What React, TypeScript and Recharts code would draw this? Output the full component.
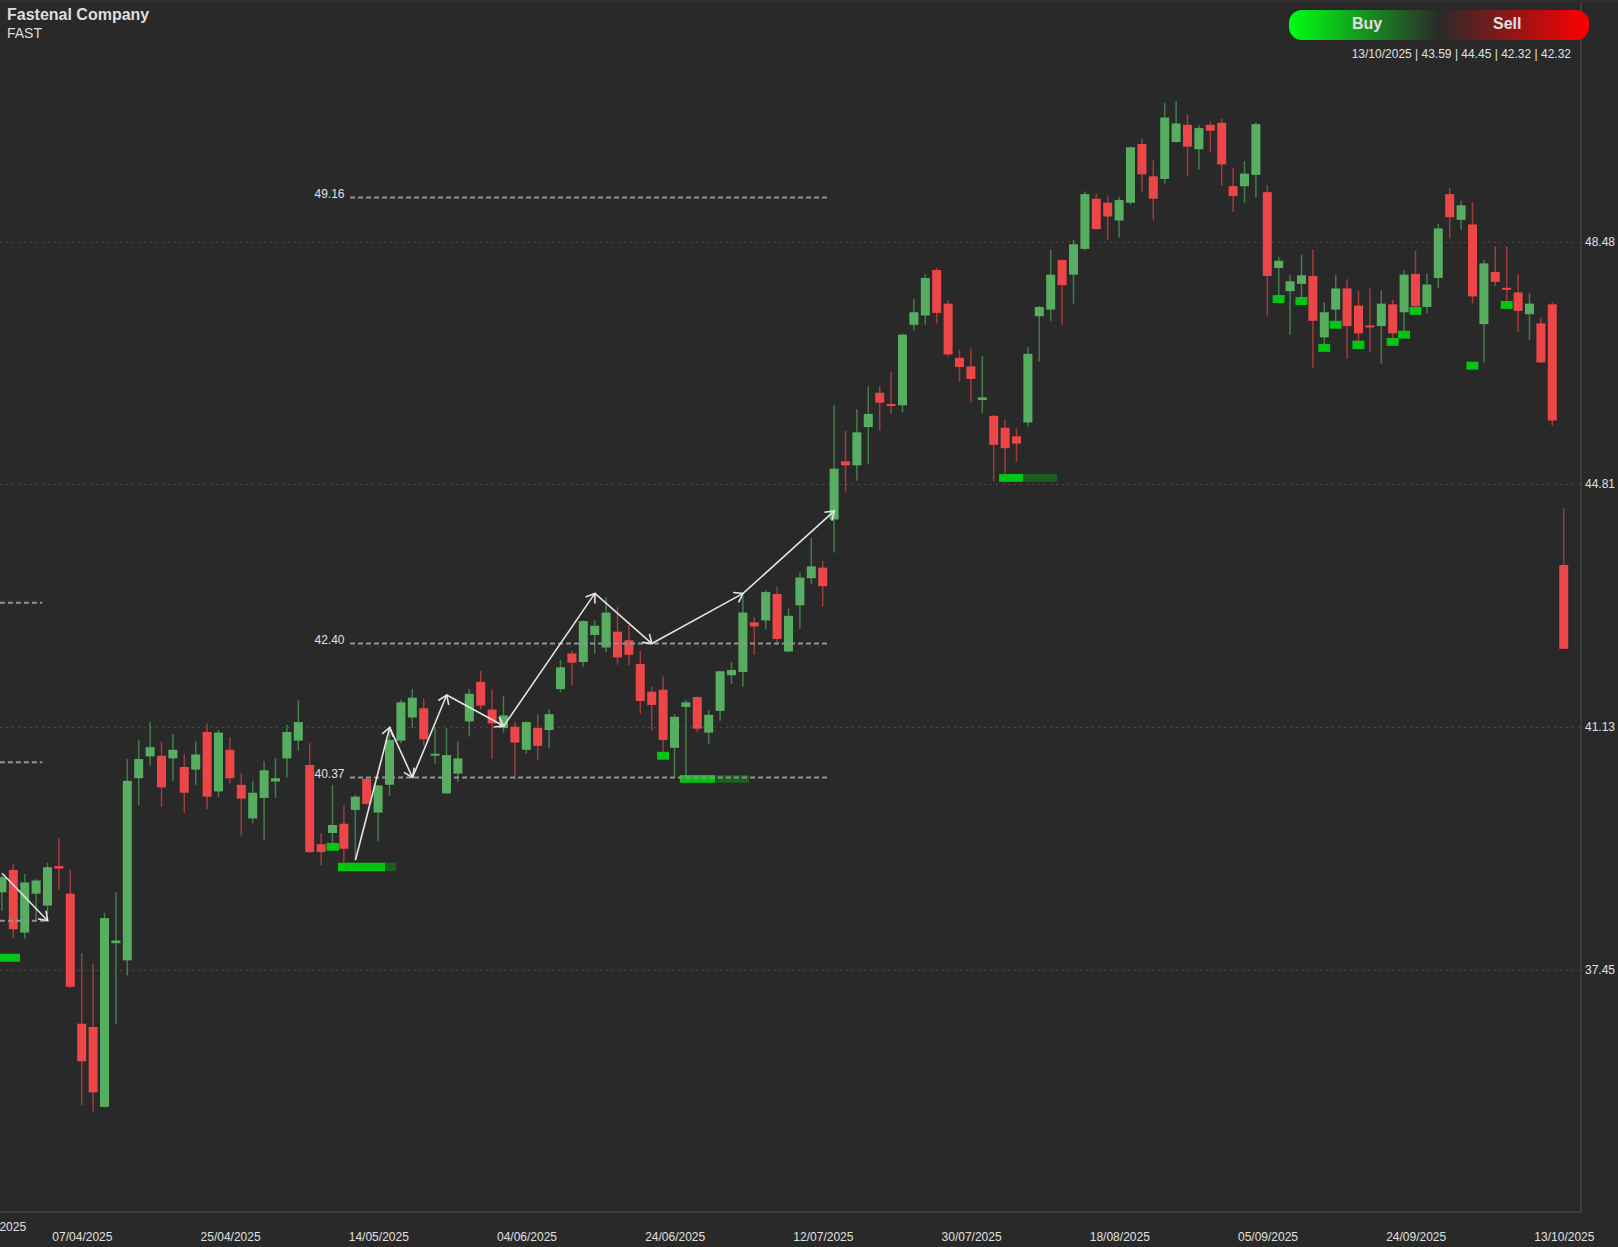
import React from 'react';
import {
  ComposedChart,
  Bar,
  XAxis,
  YAxis,
  CartesianGrid,
  ReferenceLine,
  ReferenceArea,
} from 'recharts';

const opens = [
  38.63, 38.97, 38.02, 38.61, 38.43, 39.03, 38.61, 36.64, 36.59, 35.38, 37.86, 37.6, 40.36, 40.69, 40.7, 40.66, 40.53, 40.49, 41.06, 40.16,
  40.79, 40.26, 39.75, 40.06, 40.31, 40.66, 40.93, 40.56, 39.36, 39.53, 39.67, 39.88, 40.35, 39.84, 40.26, 40.93, 41.28, 41.42, 40.71, 40.13,
  40.43, 41.22, 41.82, 41.4, 41.12, 41.14, 40.79, 41.12, 41.09, 41.71, 42.25, 42.12, 42.53, 42.34, 42.58, 42.45, 42.09, 41.67, 41.7, 40.82,
  41.44, 41.59, 41.05, 41.38, 41.92, 41.97, 42.72, 42.75, 43.15, 42.28, 42.98, 43.39, 43.55, 44.28, 45.16, 45.1, 45.68, 46.2, 46.03, 46.01,
  47.23, 47.37, 48.06, 47.55, 46.73, 46.6, 46.09, 45.85, 45.67, 45.54, 45.75, 47.36, 47.46, 48.21, 47.99, 48.38, 49.14, 49.08, 48.81, 49.08,
  49.97, 49.48, 49.44, 50.0, 50.26, 49.89, 50.26, 50.29, 49.33, 49.33, 49.5, 49.24, 48.09, 47.74, 47.85, 47.97, 47.04, 47.46, 47.78, 47.52,
  47.22, 47.21, 47.54, 47.42, 48.0, 47.5, 47.94, 49.21, 48.82, 48.75, 47.24, 48.03, 47.79, 47.72, 47.39, 47.25, 47.54, 43.59,
];
const highs = [
  38.89, 39.06, 38.91, 38.83, 39.08, 39.45, 38.97, 37.71, 37.55, 38.32, 38.63, 40.65, 40.94, 41.21, 40.91, 41.03, 40.72, 40.92, 41.19, 41.09,
  40.98, 40.44, 40.32, 40.62, 40.66, 41.17, 41.54, 40.89, 39.53, 40.26, 39.95, 40.11, 40.37, 40.26, 41.14, 41.55, 41.71, 41.57, 41.14, 41.12,
  40.92, 41.71, 41.99, 41.7, 41.61, 41.22, 41.22, 41.33, 41.4, 42.15, 42.29, 42.75, 42.75, 43.1, 42.95, 42.68, 42.29, 41.75, 41.9, 41.33,
  41.55, 41.6, 41.39, 41.99, 42.12, 43.11, 42.8, 43.21, 43.26, 42.93, 43.48, 44.0, 43.65, 46.02, 45.62, 45.95, 46.3, 46.3, 46.52, 47.1,
  47.62, 48.0, 48.09, 47.6, 46.85, 46.87, 46.76, 45.86, 45.79, 45.66, 46.89, 47.51, 48.37, 48.22, 48.52, 49.25, 49.22, 49.19, 49.17, 49.93,
  50.05, 49.72, 50.59, 50.62, 50.42, 50.26, 50.31, 50.35, 49.6, 49.71, 50.3, 49.35, 48.26, 47.98, 48.29, 48.37, 47.57, 47.98, 47.92, 47.75,
  47.78, 47.75, 47.61, 48.06, 48.35, 48.0, 48.76, 49.3, 49.11, 49.08, 48.21, 48.42, 48.42, 48.0, 47.71, 47.34, 47.57, 44.45,
];
const lows = [
  38.35, 37.93, 37.93, 38.2, 38.29, 38.67, 37.18, 35.41, 35.31, 35.37, 36.63, 37.37, 39.95, 40.55, 39.93, 40.32, 39.83, 40.26, 39.89, 40.07,
  40.28, 39.49, 39.68, 39.43, 40.06, 40.37, 40.78, 39.23, 39.04, 39.37, 39.08, 39.11, 39.96, 39.41, 40.09, 40.89, 41.12, 40.86, 40.58, 40.12,
  40.3, 40.99, 41.4, 40.65, 41.05, 40.34, 40.73, 40.63, 40.81, 41.66, 41.77, 42.05, 42.25, 42.27, 42.08, 42.07, 41.34, 41.08, 40.76, 40.37,
  40.38, 41.06, 40.88, 41.23, 41.79, 41.75, 42.23, 42.62, 42.38, 42.27, 42.62, 43.3, 42.96, 43.78, 44.69, 44.87, 45.12, 45.63, 45.88, 45.9,
  47.14, 47.23, 47.25, 46.75, 46.37, 46.05, 45.89, 44.86, 44.98, 45.16, 45.69, 46.67, 47.29, 47.23, 47.55, 48.36, 48.67, 48.52, 48.55, 49.05,
  49.25, 48.81, 49.37, 49.99, 49.48, 49.58, 49.84, 49.34, 48.94, 49.07, 49.16, 47.37, 47.66, 47.08, 47.63, 46.58, 46.92, 47.28, 46.71, 46.98,
  46.82, 46.64, 47.01, 47.13, 47.48, 47.41, 47.78, 48.54, 48.67, 47.55, 46.66, 47.82, 47.58, 47.12, 47.0, 46.65, 45.7, 42.32,
];
const closes = [
  38.86, 38.07, 38.78, 38.81, 39.01, 38.99, 37.2, 36.07, 35.6, 38.24, 37.9, 40.32, 40.65, 40.83, 40.22, 40.79, 40.14, 40.72, 40.08, 41.05,
  40.36, 40.05, 40.14, 40.48, 40.36, 41.06, 41.21, 39.24, 39.24, 39.65, 39.29, 40.08, 39.97, 40.25, 40.94, 41.51, 41.58, 40.95, 40.73, 40.71,
  40.66, 41.64, 41.46, 41.19, 41.31, 40.9, 41.21, 40.85, 41.33, 42.04, 42.11, 42.74, 42.67, 42.87, 42.19, 42.23, 41.53, 41.47, 40.94, 41.29,
  41.51, 41.11, 41.32, 41.98, 42.0, 42.87, 42.66, 43.18, 42.47, 42.82, 43.4, 43.57, 43.27, 45.05, 45.1, 45.6, 45.88, 46.05, 46.0, 47.08,
  47.42, 47.94, 47.41, 46.78, 46.59, 46.41, 46.13, 45.41, 45.36, 45.43, 46.79, 47.5, 47.99, 47.83, 48.45, 49.21, 48.68, 48.87, 49.12, 49.92,
  49.51, 49.14, 50.37, 50.28, 49.93, 50.21, 50.17, 49.66, 49.18, 49.52, 50.27, 47.97, 48.2, 47.89, 47.98, 47.29, 47.42, 47.78, 47.21, 47.1,
  47.19, 47.55, 47.1, 47.99, 47.51, 47.84, 48.69, 48.86, 49.04, 47.66, 48.16, 47.88, 47.76, 47.44, 47.55, 46.66, 45.78, 42.32,
];

const priceTicks = [37.45, 41.13, 44.81, 48.48];
const dateTickIndexes = [0, 7, 20, 33, 46, 59, 72, 85, 98, 111, 124, 137];
const dateTickLabels = [
  '19/03/2025', '07/04/2025', '25/04/2025', '14/05/2025', '04/06/2025', '24/06/2025',
  '12/07/2025', '30/07/2025', '18/08/2025', '05/09/2025', '24/09/2025', '13/10/2025',
];

// [from candle, to candle, price]
const levels = [
  [-0.19, 3.53, 43.02],
  [-0.19, 3.53, 40.6],
  [-0.19, 4, 38.2],
  [30.52, 72.5, 49.16],
  [30.52, 72.5, 42.4],
  [30.52, 72.5, 40.37],
];
const labelledLevels = [49.16, 42.4, 40.37];

// [candle, price]
const arrowsLeft = [[0, 38.92], [4, 38.2]];
const arrowsMain = [
  [31, 39.12], [34, 41.13], [36, 40.37], [39, 41.62], [44, 41.15],
  [52, 43.16], [57, 42.4], [65, 43.16], [73, 44.41],
];

// [from candle, to candle, top, bottom]
const brightZones = [
  [-0.19, 1.57, 37.7, 37.58],
  [28.46, 29.57, 39.38, 39.26],
  [29.45, 33.59, 39.08, 38.95],
  [57.45, 58.5, 40.76, 40.64],
  [59.45, 62.53, 40.41, 40.29],
  [87.45, 89.55, 44.97, 44.85],
  [111.45, 112.5, 47.68, 47.56],
  [113.45, 114.5, 47.65, 47.53],
  [115.45, 116.5, 46.94, 46.82],
  [116.45, 117.5, 47.29, 47.17],
  [118.45, 119.5, 46.99, 46.86],
  [121.45, 122.5, 47.03, 46.91],
  [122.45, 123.5, 47.14, 47.02],
  [123.45, 124.5, 47.5, 47.38],
  [128.45, 129.5, 46.67, 46.55],
  [131.45, 132.5, 47.59, 47.47],
];
const fadedZones = [
  [33.59, 34.55, 39.08, 38.95],
  [62.53, 65.52, 40.41, 40.29],
  [89.55, 92.54, 44.97, 44.85],
];

const UP = '#57ae61';
const DOWN = '#ec4649';
const FONT = '"Liberation Sans", Arial, sans-serif';

const rows = opens.map((open, i) => ({
  i,
  open,
  close: closes[i],
  range: [lows[i], highs[i]],
}));

const Candle = ({ x, y, width, height, payload }: any) => {
  const [low, high] = payload.range;
  const perUnit = height / (high - low);
  const top = y + (high - Math.max(payload.open, payload.close)) * perUnit;
  const bottom = y + (high - Math.min(payload.open, payload.close)) * perUnit;
  const color = payload.close >= payload.open ? UP : DOWN;
  const mid = x + width / 2;
  return (
    <g>
      <line x1={mid} x2={mid} y1={y} y2={y + height} stroke={color} strokeWidth={1.5} strokeOpacity={0.62} />
      <rect x={x} y={top} width={width} height={Math.max(bottom - top, 2)} fill={color} />
    </g>
  );
};

const ArrowSegment = ({ x1, y1, x2, y2 }: any) => {
  const angle = Math.atan2(y2 - y1, x2 - x1);
  const barb = (side: number) => {
    const a = angle + Math.PI + side * 0.6;
    return `${x2 + Math.cos(a) * 10},${y2 + Math.sin(a) * 10}`;
  };
  return (
    <g>
      <line x1={x1} y1={y1} x2={x2} y2={y2} stroke="#e4e4e4" strokeWidth={1.6} />
      <polyline points={`${barb(1)} ${x2},${y2} ${barb(-1)}`} fill="none" stroke="#e4e4e4" strokeWidth={1.6} />
    </g>
  );
};

const LevelShape = ({ x1, y1, x2, y2, text }: any) => (
  <g>
    <line x1={x1} y1={y1} x2={x2} y2={y2} stroke="#929292" strokeWidth={2} strokeDasharray="5 3" />
    {text && (
      <text x={x1 - 5.5} y={y1 + 0.5} textAnchor="end" fontSize={12} fontFamily={FONT} fill="#e0e0e0">
        {text}
      </text>
    )}
  </g>
);

const DateTick = ({ x, y, payload }: any) => {
  const pos = dateTickIndexes.indexOf(payload.value);
  const first = pos === 0;
  return (
    <text
      x={first ? x - 6 : x + 0.5}
      y={first ? y + 11 : y + 21}
      textAnchor="middle"
      fontSize={12}
      fontFamily={FONT}
      fill="#e0e0e0"
    >
      {dateTickLabels[pos]}
    </text>
  );
};

const segments = (points: number[][]) =>
  points.slice(1).map((p, k) => [points[k], p]);

export default function App() {
  const arrowSegments = [...segments(arrowsLeft), ...segments(arrowsMain)];
  return (
    <div
      style={{
        position: 'absolute',
        left: 0,
        top: 0,
        width: 1618,
        height: 1247,
        overflow: 'hidden',
        background: '#292929',
        fontFamily: FONT,
      }}
    >
      <ComposedChart width={1618} height={1247} data={rows} margin={{ top: 0, right: 0, bottom: 0, left: 0 }}>
        <CartesianGrid horizontal vertical={false} stroke="#4c4c4c" strokeDasharray="2 4" />
        <XAxis
          dataKey="i"
          type="category"
          height={35}
          padding={{ left: -3.6, right: 11.4 }}
          ticks={dateTickIndexes}
          interval={0}
          tick={<DateTick />}
          tickLine={false}
          axisLine={{ stroke: '#3c3c3c', strokeWidth: 2 }}
        />
        <XAxis xAxisId="n" dataKey="i" type="number" domain={[-0.1842, 138.5]} allowDataOverflow hide />
        <YAxis
          orientation="right"
          width={37}
          domain={[33.787, 52.151]}
          allowDataOverflow
          ticks={priceTicks}
          tickFormatter={(v: number) => v.toFixed(2)}
          tick={{ fontSize: 12, fill: '#e0e0e0', fontFamily: FONT, dy: -1 }}
          tickLine={false}
          tickSize={0}
          tickMargin={4}
          axisLine={{ stroke: '#3c3c3c', strokeWidth: 2 }}
        />
        <Bar dataKey="range" barSize={9} shape={<Candle />} isAnimationActive={false} />
        {fadedZones.map(([a, b, top, bottom], k) => (
          <ReferenceArea key={`f${k}`} xAxisId="n" x1={a} x2={b} y1={top} y2={bottom} fill="#1a5f1e" fillOpacity={1} stroke="none" ifOverflow="visible" isFront />
        ))}
        {brightZones.map(([a, b, top, bottom], k) => (
          <ReferenceArea key={`b${k}`} xAxisId="n" x1={a} x2={b} y1={top} y2={bottom} fill="#03c512" fillOpacity={1} stroke="none" ifOverflow="visible" isFront />
        ))}
        {levels.map(([a, b, price], k) => (
          <ReferenceLine
            key={`l${k}`}
            xAxisId="n"
            segment={[{ x: a, y: price }, { x: b, y: price }]}
            ifOverflow="visible"
            isFront
            shape={(p: any) => (
              <LevelShape {...p} text={labelledLevels.includes(price) ? price.toFixed(2) : undefined} />
            )}
          />
        ))}
        {arrowSegments.map(([from, to], k) => (
          <ReferenceLine
            key={`a${k}`}
            xAxisId="n"
            segment={[{ x: from[0], y: from[1] }, { x: to[0], y: to[1] }]}
            ifOverflow="visible"
            isFront
            shape={(p: any) => <ArrowSegment {...p} />}
          />
        ))}
      </ComposedChart>

      <div style={{ position: 'absolute', left: 0, top: 0, width: 1618, height: 2, background: '#303030' }} />
      <div style={{ position: 'absolute', left: 7, top: 6, fontSize: 16, fontWeight: 700, color: '#dedede' }}>
        Fastenal Company
      </div>
      <div style={{ position: 'absolute', left: 7, top: 25, fontSize: 14, color: '#dedede' }}>FAST</div>
      <div
        style={{
          position: 'absolute',
          left: 1289,
          top: 10,
          width: 300,
          height: 30,
          borderRadius: 13,
          background: 'linear-gradient(90deg, #00ff14 0%, #2a2a2a 50%, #ff0000 100%)',
        }}
      />
      <div style={{ position: 'absolute', left: 1352, top: 15, fontSize: 16, fontWeight: 700, color: '#e0e0e0' }}>Buy</div>
      <div style={{ position: 'absolute', left: 1493, top: 15, fontSize: 16, fontWeight: 700, color: '#e0e0e0' }}>Sell</div>
      <div style={{ position: 'absolute', right: 47, top: 47, fontSize: 12, color: '#e0e0e0', whiteSpace: 'nowrap' }}>
        13/10/2025 | 43.59 | 44.45 | 42.32 | 42.32
      </div>
    </div>
  );
}
